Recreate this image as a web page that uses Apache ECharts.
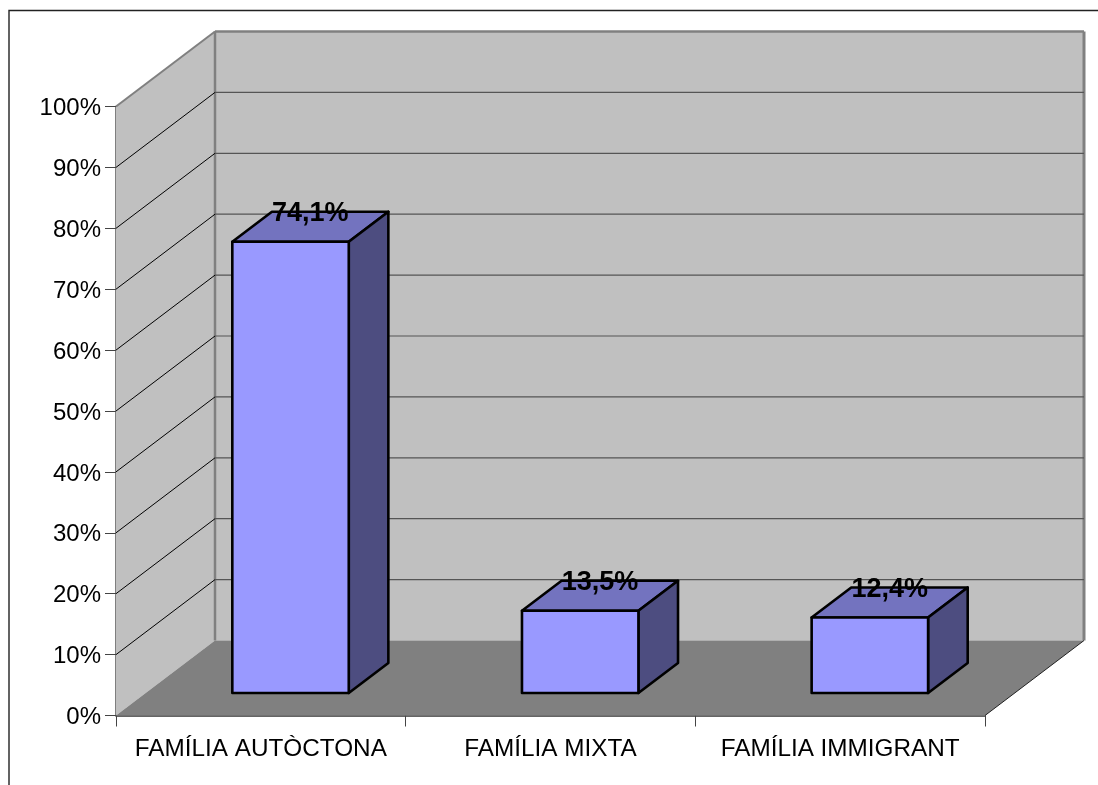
<!DOCTYPE html>
<html><head><meta charset="utf-8">
<style>html,body{margin:0;padding:0;background:#fff}#c{width:1098px;height:785px}</style>
<script src="https://cdn.jsdelivr.net/npm/echarts@6/dist/echarts.min.js"></script>
</head><body><div id="c"></div>
<script>
const categories = ['FAMÍLIA AUTÒCTONA', 'FAMÍLIA MIXTA', 'FAMÍLIA IMMIGRANT'];
const values = [74.1, 13.5, 12.4];
const valueLabels = ['74,1%', '13,5%', '12,4%'];
const gridTicks = [10, 20, 30, 40, 50, 60, 70, 80, 90];

const DX = 99, DY = -75;            // full floor depth projected on screen
const BAR_D0 = 0.30, BAR_D1 = 0.70; // bar depth span as a fraction of the floor
const BAR_W = 0.402;                // bar width as a fraction of the band
const FONT = '"Liberation Sans", Arial, sans-serif';

const project = (api, cat, val, depth) => {
  const p = api.coord([cat, val]);
  return [p[0] + depth * DX, p[1] + depth * DY];
};
const bandW = api => api.size([1, 0])[0];

function renderWalls(params, api) {
  const n = categories.length, hb = 0.5;
  const L = -hb, R = n - 1 + hb;
  const at = (c, v, d) => {
    const o = api.coord([0, v]);
    const x = o[0] + c * bandW(api);
    return [x + d * DX, o[1] + d * DY];
  };
  const poly = (pts, fill, stroke, lw) => ({
    type: 'polygon', shape: { points: pts },
    style: { fill, stroke: stroke || null, lineWidth: lw || 0 }
  });
  const line = (a, b, stroke, lw) => ({
    type: 'line', shape: { x1: a[0], y1: a[1], x2: b[0], y2: b[1] },
    style: { stroke, lineWidth: lw }
  });
  return { type: 'group', children: [
    poly([at(L,0,1), at(R,0,1), at(R,100,1), at(L,100,1)], '#C0C0C0'),
    poly([at(L,0,0), at(L,100,0), at(L,100,1), at(L,0,1)], '#C0C0C0'),
    poly([at(L,0,0), at(R,0,0), at(R,0,1), at(L,0,1)], '#808080'),
    line(at(L,100,1), at(R,100,1), '#808080', 2.5),
    line(at(L,100,0), at(L,100,1), '#808080', 2),
    line(at(L,0,1), at(L,100,1), '#808080', 2.5),
    line(at(R,0,1), at(R,100,1), '#808080', 3),
    line(at(R,0,0), at(R,0,1), '#222222', 1)
  ]};
}

function renderGrid(params, api) {
  const v = api.value(1);
  const n = categories.length;
  const o = api.coord([0, v]);
  const xl = o[0] - bandW(api) / 2;
  const xr = xl + n * bandW(api);
  return { type: 'group', children: [
    { type: 'line', shape: { x1: xl, y1: o[1], x2: xl + DX, y2: o[1] + DY },
      style: { stroke: '#000', lineWidth: 1 } },
    { type: 'line', shape: { x1: xl + DX, y1: o[1] + DY, x2: xr + DX, y2: o[1] + DY },
      style: { stroke: '#555', lineWidth: 1.2 } }
  ]};
}

function renderBar(params, api) {
  const c = api.value(0), v = api.value(1), i = params.dataIndex;
  const hw = bandW(api) * BAR_W / 2;
  const pt = (dx, val, d) => {
    const p = project(api, c, val, d);
    return [p[0] + dx, p[1]];
  };
  const f = (pts, fill) => ({ type: 'polygon', shape: { points: pts },
    style: { fill, stroke: '#000', lineWidth: 2.6, lineJoin: 'round' } });
  const labX = pt(0, v, (BAR_D0 + BAR_D1) / 2)[0];
  const labY = pt(0, v, BAR_D1)[1];
  return { type: 'group', children: [
    f([pt(-hw,v,BAR_D0), pt(hw,v,BAR_D0), pt(hw,v,BAR_D1), pt(-hw,v,BAR_D1)], '#7373BF'),
    f([pt(hw,0,BAR_D0), pt(hw,v,BAR_D0), pt(hw,v,BAR_D1), pt(hw,0,BAR_D1)], '#4D4D80'),
    f([pt(-hw,0,BAR_D0), pt(hw,0,BAR_D0), pt(hw,v,BAR_D0), pt(-hw,v,BAR_D0)], '#9999FF'),
    { type: 'text', z2: 10, style: { x: labX, y: labY + 2, text: valueLabels[i],
      fill: '#000', font: 'bold 27px ' + FONT, align: 'center', verticalAlign: 'middle' } }
  ]};
}

const chart = echarts.init(document.getElementById('c'), null, { renderer: 'canvas' });
chart.setOption({
  animation: false,
  backgroundColor: '#ffffff',
  grid: { left: 116, right: 113, top: 106.5, bottom: 69.5 },
  xAxis: {
    type: 'category', data: categories, boundaryGap: true,
    axisLine: { show: true, onZero: true, lineStyle: { color: '#333', width: 1.5 } },
    axisTick: { show: true, length: 11, alignWithLabel: false, lineStyle: { color: '#444', width: 1 } },
    axisLabel: { interval: 0, margin: 21.5, color: '#000', fontFamily: 'Liberation Sans', fontSize: 24.3, hideOverlap: false }
  },
  yAxis: {
    type: 'value', min: 0, max: 100, interval: 10,
    axisLine: { show: true, lineStyle: { color: '#555', width: 1.5 } },
    axisTick: { show: true, length: 11, lineStyle: { color: '#444', width: 1 } },
    axisLabel: { margin: 15, formatter: v => '{t|' + v + '%}', color: '#000',
      rich: { t: { color: '#000', fontFamily: 'Liberation Sans', fontSize: 24, padding: [4, 0, 0, 0] } } },
    splitLine: { show: false }
  },
  graphic: [{
    type: 'polyline', silent: true, z: 100,
    shape: { points: [[9, 790], [9, 10.5], [1105, 10.5]] },
    style: { fill: null, stroke: '#222', lineWidth: 1.4 }
  }],
  series: [
    { type: 'custom', name: 'walls', z: 1, renderItem: renderWalls, data: [[0, 0]], silent: true },
    { type: 'custom', name: 'grid', z: 2, renderItem: renderGrid, data: gridTicks.map(t => [0, t]), silent: true },
    { type: 'custom', name: 'bars', z: 3, renderItem: renderBar, data: values.map((v, i) => [i, v]), silent: true }
  ]
});
</script></body></html>
